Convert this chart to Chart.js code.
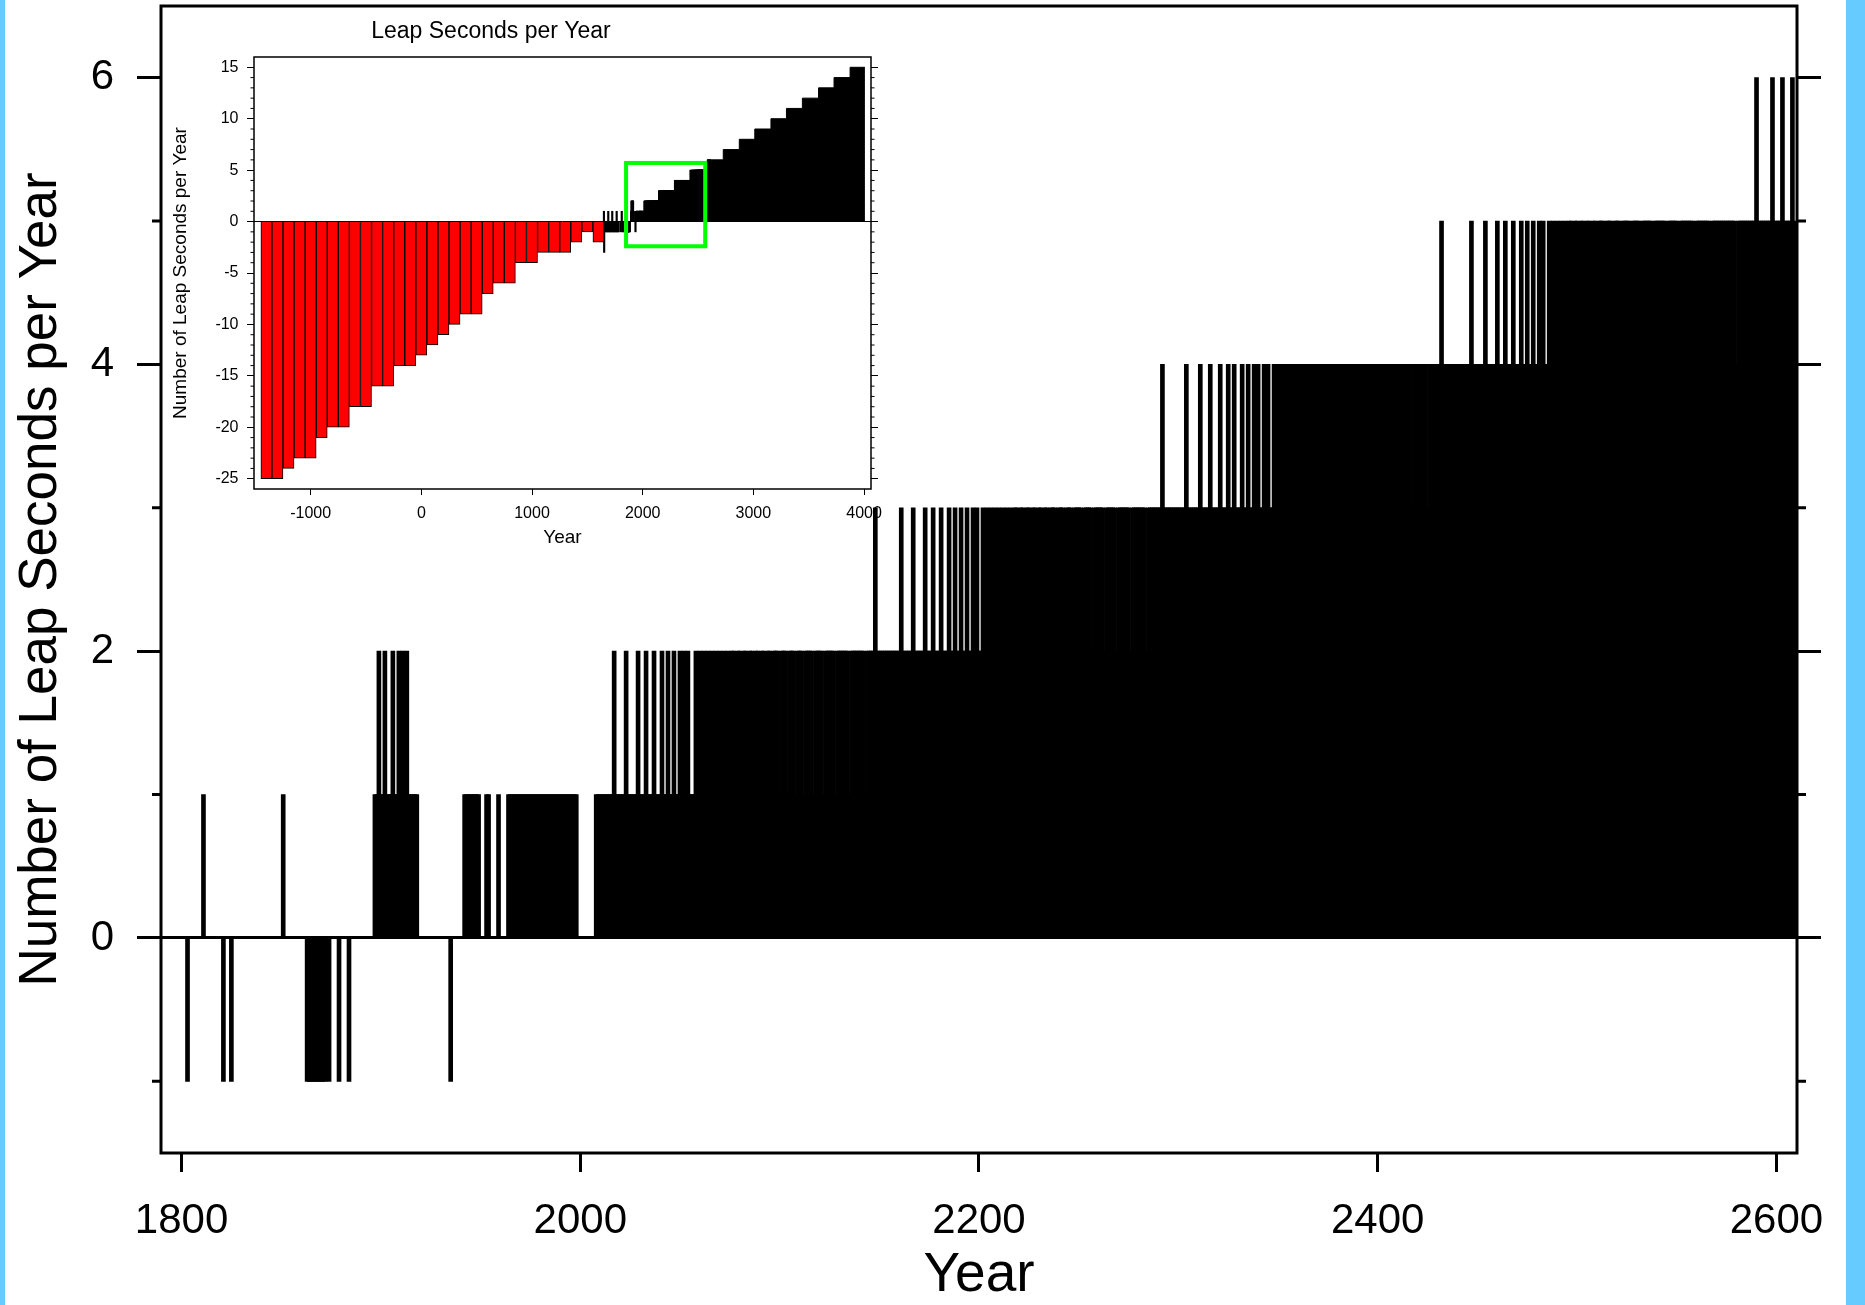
<!DOCTYPE html>
<html>
<head>
<meta charset="utf-8">
<title>Leap Seconds per Year</title>
<script src="https://cdn.jsdelivr.net/npm/chart.js@4.4.1/dist/chart.umd.min.js"></script>
<style>
    html, body { margin: 0; padding: 0; background: #fff; }
    #pagina { position: relative; width: 1865px; height: 1305px; background: #fff; overflow: hidden; }
    .borde { position: absolute; top: 0; height: 1305px; background: #66ccff; }
    #inserto { position: absolute; left: 110px; top: 0; z-index: 1; }
    #principal { position: absolute; left: 0; top: 0; z-index: 2; }
</style>
</head>
<body>
<div id="pagina">
    <div class="borde" style="left:0;width:5px"></div>
    <div class="borde" style="left:1846px;width:19px"></div>
    <canvas id="inserto" width="790" height="580"></canvas>
    <canvas id="principal" width="1865" height="1305"></canvas>
</div>
<script>
// Datos
const PRIMER_ANIO = 1790;
// segundos intercalares por anio, 1790..2609 (una fila por decada)
const segundosPorAnio = [
    0, 0, 0, 0, 0, 0, 0, 0, 0, 0,        // 1790
    0, 0, 0, -1, 0, 0, 0, 0, 0, 0,       // 1800
    0, 1, 0, 0, 0, 0, 0, 0, 0, 0,        // 1810
    0, -1, 0, 0, 0, -1, 0, 0, 0, 0,      // 1820
    0, 0, 0, 0, 0, 0, 0, 0, 0, 0,        // 1830
    0, 0, 0, 0, 0, 0, 0, 0, 0, 0,        // 1840
    0, 1, 0, 0, 0, 0, 0, 0, 0, 0,        // 1850
    0, 0, 0, -1, -1, -1, -1, -1, -1, -1, // 1860
    -1, -1, -1, 0, -1, 0, 0, 0, 0, -1,   // 1870
    0, 0, 0, 0, -1, 0, 0, 0, 0, 0,       // 1880
    0, 0, 0, 0, 0, 0, 0, 1, 1, 2,        // 1890
    1, 1, 2, 1, 1, 1, 2, 1, 1, 2,        // 1900
    1, 2, 1, 2, 1, 1, 1, 1, 1, 0,        // 1910
    0, 0, 0, 0, 0, 0, 0, 0, 0, 0,        // 1920
    0, 0, 0, 0, 0, -1, 0, 0, 0, 0,       // 1930
    0, 0, 1, 1, 1, 1, 1, 1, 1, 1,        // 1940
    0, 0, 0, 1, 1, 0, 0, 0, 0, 1,        // 1950
    0, 0, 0, 0, 1, 1, 1, 1, 1, 1,        // 1960
    1, 1, 1, 1, 1, 1, 1, 1, 1, 1,        // 1970
    1, 1, 1, 1, 1, 1, 1, 1, 1, 1,        // 1980
    1, 1, 1, 1, 1, 1, 1, 1, 1, 0,        // 1990
    0, 0, 0, 0, 0, 0, 0, 0, 1, 1,        // 2000
    1, 1, 1, 1, 1, 1, 1, 2, 1, 1,        // 2010
    1, 1, 1, 2, 1, 1, 1, 1, 1, 2,        // 2020
    1, 1, 1, 2, 1, 1, 1, 2, 1, 1,        // 2030
    1, 2, 1, 1, 2, 1, 1, 2, 1, 1,        // 2040
    2, 1, 2, 1, 2, 1, 1, 1, 2, 1,        // 2050
    2, 1, 2, 1, 2, 1, 2, 1, 2, 1,        // 2060
    2, 1, 2, 1, 2, 1, 2, 2, 1, 2,        // 2070
    2, 1, 2, 2, 1, 2, 2, 1, 2, 2,        // 2080
    1, 2, 2, 1, 2, 2, 1, 2, 2, 2,        // 2090
    1, 2, 2, 2, 1, 2, 2, 2, 1, 2,        // 2100
    2, 2, 1, 2, 2, 2, 2, 1, 2, 2,        // 2110
    2, 2, 1, 2, 2, 2, 2, 2, 1, 2,        // 2120
    2, 2, 2, 2, 2, 1, 2, 2, 2, 2,        // 2130
    2, 2, 2, 1, 2, 2, 2, 2, 3, 2,        // 2140
    2, 2, 2, 2, 2, 2, 2, 2, 2, 2,        // 2150
    2, 3, 2, 2, 2, 2, 2, 3, 2, 2,        // 2160
    2, 2, 2, 3, 2, 2, 2, 3, 2, 2,        // 2170
    2, 3, 2, 2, 2, 3, 2, 2, 3, 2,        // 2180
    2, 3, 2, 2, 3, 2, 2, 3, 2, 3,        // 2190
    2, 2, 3, 2, 3, 2, 3, 2, 3, 2,        // 2200
    3, 2, 3, 2, 3, 2, 3, 2, 3, 3,        // 2210
    2, 3, 3, 2, 3, 3, 2, 3, 3, 2,        // 2220
    3, 3, 2, 3, 3, 2, 3, 3, 3, 2,        // 2230
    3, 3, 3, 2, 3, 3, 3, 2, 3, 3,        // 2240
    3, 3, 2, 3, 3, 3, 3, 2, 3, 3,        // 2250
    3, 3, 3, 2, 3, 3, 3, 3, 3, 2,        // 2260
    3, 3, 3, 3, 3, 3, 2, 3, 3, 3,        // 2270
    3, 3, 3, 3, 2, 3, 3, 3, 3, 3,        // 2280
    3, 3, 4, 3, 3, 3, 3, 3, 3, 3,        // 2290
    3, 3, 3, 3, 4, 3, 3, 3, 3, 3,        // 2300
    3, 4, 3, 3, 3, 3, 4, 3, 3, 3,        // 2310
    3, 4, 3, 3, 3, 4, 3, 3, 4, 3,        // 2320
    3, 3, 4, 3, 3, 4, 3, 3, 4, 3,        // 2330
    4, 3, 3, 4, 3, 4, 3, 3, 4, 3,        // 2340
    4, 3, 4, 3, 4, 3, 4, 3, 4, 3,        // 2350
    4, 3, 4, 4, 3, 4, 3, 4, 4, 3,        // 2360
    4, 4, 3, 4, 4, 3, 4, 4, 3, 4,        // 2370
    4, 4, 3, 4, 4, 4, 3, 4, 4, 4,        // 2380
    3, 4, 4, 4, 3, 4, 4, 4, 4, 3,        // 2390
    4, 4, 4, 4, 3, 4, 4, 4, 4, 4,        // 2400
    3, 4, 4, 4, 4, 4, 4, 3, 4, 4,        // 2410
    4, 4, 4, 4, 4, 3, 4, 4, 4, 4,        // 2420
    4, 4, 5, 4, 4, 4, 4, 4, 4, 4,        // 2430
    4, 4, 4, 4, 4, 4, 4, 5, 4, 4,        // 2440
    4, 4, 4, 4, 5, 4, 4, 4, 4, 4,        // 2450
    5, 4, 4, 4, 5, 4, 4, 4, 5, 4,        // 2460
    4, 4, 5, 4, 4, 5, 4, 4, 5, 4,        // 2470
    4, 5, 4, 5, 4, 4, 5, 4, 5, 4,        // 2480
    5, 4, 5, 4, 5, 4, 5, 5, 4, 5,        // 2490
    5, 4, 5, 5, 4, 5, 5, 4, 5, 5,        // 2500
    4, 5, 5, 5, 4, 5, 5, 5, 4, 5,        // 2510
    5, 5, 4, 5, 5, 5, 5, 4, 5, 5,        // 2520
    5, 5, 4, 5, 5, 5, 5, 5, 4, 5,        // 2530
    5, 5, 5, 5, 5, 4, 5, 5, 5, 5,        // 2540
    5, 4, 5, 5, 5, 5, 5, 5, 5, 4,        // 2550
    5, 5, 5, 5, 5, 5, 5, 4, 5, 5,        // 2560
    5, 5, 5, 5, 5, 5, 5, 5, 5, 5,        // 2570
    4, 5, 5, 5, 5, 5, 5, 5, 5, 5,        // 2580
    6, 5, 5, 5, 5, 5, 5, 5, 6, 5,        // 2590
    5, 5, 5, 6, 5, 5, 5, 5, 6, 5         // 2600
];
const ticksAnio = [1800, 2000, 2200, 2400, 2600];
const ticksSegundos = [-1, 0, 1, 2, 3, 4, 5, 6];
const etiquetasSegundos = [0, 2, 4, 6];

// Grafico insertado: barras rojas por siglo
const siglosRojos = [-1400, -1300, -1200, -1100, -1000, -900, -800, -700, -600, -500, -400, -300, -200, -100,
    0, 100, 200, 300, 400, 500, 600, 700, 800, 900, 1000, 1100, 1200, 1300, 1400, 1500, 1600];
const valoresRojos = [-25, -25, -24, -23, -23, -21, -20, -20, -18, -18, -16, -16, -14, -14,
    -13, -12, -11, -10, -9, -9, -7, -6, -6, -4, -4, -3, -3, -3, -2, -1, -2];
// lineas negras antes de 1790
const aniosTempranos = [1650, 1652, 1656, 1663, 1670, 1677, 1684, 1689, 1691, 1698, 1705, 1712,
    1719, 1725, 1727, 1734, 1741, 1748, 1755, 1762, 1765, 1769, 1776, 1783];
const valoresTempranos = [1, -3, -1, -1, -1, -1, -1, 1, -1, -1, -1, -1,
    -1, 1, -1, -1, -1, -1, -1, -1, 1, -1, -1, -1];
// escalera negra (inicio de cada nivel)
const aniosEscalon = [1940, 2013, 2144, 2288, 2432, 2584, 2728, 2873, 3013, 3159, 3299, 3443, 3589, 3729, 3874, 4008];
const valoresEscalon = [1, 2, 3, 4, 5, 6, 7, 8, 9, 10, 11, 12, 13, 14, 15, 15];
const ticksAnioInserto = [-1000, 0, 1000, 2000, 3000, 4000];
const ticksSegInserto = [-25, -20, -15, -10, -5, 0, 5, 10, 15];
// recuadro verde (zona ampliada)
const cajaAnios = [1850, 2565];
const cajaValores = [-2.4, 5.7];

(function() {
    console.log('Iniciando grafico de segundos intercalares');

    Chart.defaults.font.family = "'Liberation Sans', Arial, sans-serif";
    Chart.defaults.color = '#000';

    const transparente = 'rgba(0,0,0,0)';
    const anios = segundosPorAnio.map((v, i) => PRIMER_ANIO + i);
    const puntosAnuales = anios.map((a, i) => ({ x: a, y: segundosPorAnio[i] }));

    function fijarTicks(valores) {
        return function(eje) {
            eje.ticks = valores.map(v => ({ value: v }));
        };
    }

    // tamano fijo del eje, sin relleno extra por las etiquetas
    function fijarTamano(ancho, alto) {
        return function(eje) {
            if (ancho !== null) eje.width = ancho;
            if (alto !== null) eje.height = alto;
            eje.paddingTop = 0;
            eje.paddingBottom = 0;
            eje.paddingLeft = 0;
            eje.paddingRight = 0;
        };
    }

    const sinComas = v => String(v);

    // marco y marcas menores del grafico principal
    const marcoPrincipal = {
        id: 'marcoPrincipal',
        afterDraw(chart) {
            const { ctx, chartArea: a, scales } = chart;
            ctx.save();
            ctx.strokeStyle = '#000';
            ctx.lineWidth = 3;
            ctx.strokeRect(a.left, a.top, a.right - a.left, a.bottom - a.top);
            ctx.beginPath();
            ticksSegundos.filter(v => !etiquetasSegundos.includes(v)).forEach(v => {
                const py = scales.y.getPixelForValue(v);
                ctx.moveTo(a.left - 9, py);
                ctx.lineTo(a.left, py);
                ctx.moveTo(a.right, py);
                ctx.lineTo(a.right + 9, py);
            });
            ctx.stroke();
            ctx.restore();
        }
    };

    function crearGraficoPrincipal() {
        const ctx = document.getElementById('principal');
        new Chart(ctx, {
            type: 'bar',
            data: {
                datasets: [{
                    data: puntosAnuales,
                    backgroundColor: '#000',
                    borderWidth: 0,
                    barThickness: 4
                }]
            },
            options: {
                responsive: false,
                animation: false,
                layout: { padding: { top: 6, left: 0, right: 0, bottom: 0 } },
                plugins: { legend: { display: false }, tooltip: { enabled: false } },
                scales: {
                    x: {
                        type: 'linear',
                        min: 1789.7,
                        max: 2610.3,
                        offset: false,
                        afterBuildTicks: fijarTicks(ticksAnio),
                        afterFit: fijarTamano(null, 152),
                        grid: { offset: false, drawOnChartArea: false, tickLength: 19, tickWidth: 3, tickColor: '#000' },
                        border: { display: false },
                        ticks: { font: { size: 42 }, padding: 24, maxRotation: 0, autoSkip: false, callback: sinComas },
                        title: { display: true, text: 'Year', font: { size: 55 }, padding: { top: 0, bottom: -4 } }
                    },
                    y: {
                        type: 'linear',
                        min: -1.5,
                        max: 6.5,
                        afterBuildTicks: fijarTicks(ticksSegundos),
                        afterFit: fijarTamano(161, null),
                        grid: {
                            color: c => (c.tick && c.tick.value === 0) ? '#000' : transparente,
                            lineWidth: 3,
                            tickLength: 24,
                            tickWidth: 3,
                            tickColor: c => (c.tick && etiquetasSegundos.includes(c.tick.value)) ? '#000' : transparente
                        },
                        border: { display: false },
                        ticks: {
                            font: { size: 42 },
                            padding: 23,
                            autoSkip: false,
                            callback: v => etiquetasSegundos.includes(v) ? String(v) : ''
                        },
                        title: { display: true, text: 'Number of Leap Seconds per Year', font: { size: 53 }, padding: { top: 10, bottom: 0 } }
                    },
                    y2: {
                        type: 'linear',
                        position: 'right',
                        min: -1.5,
                        max: 6.5,
                        afterBuildTicks: fijarTicks(ticksSegundos),
                        afterFit: fijarTamano(68, null),
                        grid: {
                            drawOnChartArea: false,
                            tickLength: 24,
                            tickWidth: 3,
                            tickColor: c => (c.tick && etiquetasSegundos.includes(c.tick.value)) ? '#000' : transparente
                        },
                        border: { display: false },
                        ticks: { autoSkip: false, callback: () => '' }
                    }
                }
            },
            plugins: [marcoPrincipal]
        });
    }

    // marco, marcas menores y recuadro verde del grafico insertado
    const marcoInserto = {
        id: 'marcoInserto',
        afterDatasetsDraw(chart) {
            const { ctx, chartArea: a, scales } = chart;
            ctx.save();
            ctx.strokeStyle = '#000';
            ctx.lineWidth = 1;
            ctx.beginPath();
            for (let v = -25; v <= 15; v++) {
                if (v % 5 === 0) continue;
                const py = scales.y.getPixelForValue(v);
                ctx.moveTo(a.left - 3.5, py);
                ctx.lineTo(a.left, py);
                ctx.moveTo(a.right, py);
                ctx.lineTo(a.right + 3.5, py);
            }
            ctx.stroke();
            ctx.lineWidth = 1.5;
            ctx.strokeRect(a.left, a.top, a.right - a.left, a.bottom - a.top);
            const x1 = scales.x.getPixelForValue(cajaAnios[0]);
            const x2 = scales.x.getPixelForValue(cajaAnios[1]);
            const y1 = scales.y.getPixelForValue(cajaValores[1]);
            const y2 = scales.y.getPixelForValue(cajaValores[0]);
            ctx.strokeStyle = '#00ff00';
            ctx.lineWidth = 4;
            ctx.strokeRect(x1, y1, x2 - x1, y2 - y1);
            ctx.restore();
        }
    };

    function crearGraficoInserto() {
        const ctx = document.getElementById('inserto');
        const rojos = siglosRojos.map((a, i) => ({ x: a, y: valoresRojos[i] }));
        const tempranos = aniosTempranos.map((a, i) => ({ x: a, y: valoresTempranos[i] }));
        const escalones = aniosEscalon.map((a, i) => ({ x: a, y: valoresEscalon[i] }));
        new Chart(ctx, {
            type: 'bar',
            data: {
                datasets: [
                    { type: 'line', data: escalones, stepped: 'before', fill: 'origin', backgroundColor: '#000',
                      borderColor: '#000', borderWidth: 1, pointRadius: 0, order: 4 },
                    { data: rojos, backgroundColor: '#ff0000', borderColor: '#000', borderWidth: 1,
                      barThickness: 11, grouped: false, order: 1 },
                    { data: tempranos, backgroundColor: '#000', borderWidth: 0, barThickness: 1.5, grouped: false, order: 2 },
                    { data: puntosAnuales, backgroundColor: '#000', borderWidth: 0, barThickness: 1.5, grouped: false, order: 3 }
                ]
            },
            options: {
                responsive: false,
                animation: false,
                layout: { padding: { top: 0, left: 0, right: 28, bottom: 0 } },
                plugins: {
                    legend: { display: false },
                    tooltip: { enabled: false },
                    title: {
                        display: true,
                        text: 'Leap Seconds per Year',
                        font: { size: 23, weight: 'normal' },
                        padding: { top: 18.2, bottom: 11.2 }
                    }
                },
                scales: {
                    x: {
                        type: 'linear',
                        min: -1512,
                        max: 4063,
                        offset: false,
                        afterBuildTicks: fijarTicks(ticksAnioInserto),
                        afterFit: fijarTamano(null, 91),
                        grid: { offset: false, drawOnChartArea: false, tickLength: 6, tickWidth: 1, tickColor: '#000' },
                        border: { display: false },
                        ticks: { font: { size: 16 }, padding: 9.4, maxRotation: 0, autoSkip: false, callback: sinComas },
                        title: { display: true, text: 'Year', font: { size: 19 }, padding: { top: 0, bottom: 31 } }
                    },
                    y: {
                        type: 'linear',
                        min: -26,
                        max: 16,
                        afterBuildTicks: fijarTicks(ticksSegInserto),
                        afterFit: fijarTamano(144, null),
                        grid: {
                            color: c => (c.tick && c.tick.value === 0) ? '#000' : transparente,
                            lineWidth: 1,
                            tickLength: 7,
                            tickWidth: 1,
                            tickColor: '#000'
                        },
                        border: { display: false },
                        ticks: { font: { size: 16 }, padding: 8.5, autoSkip: false, callback: sinComas },
                        title: { display: true, text: 'Number of Leap Seconds per Year', font: { size: 19 }, padding: { top: 59.6, bottom: 0 } }
                    },
                    y2: {
                        type: 'linear',
                        position: 'right',
                        min: -26,
                        max: 16,
                        afterBuildTicks: fijarTicks(ticksSegInserto),
                        afterFit: fijarTamano(1, null),
                        grid: { drawOnChartArea: false, tickLength: 7, tickWidth: 1, tickColor: '#000' },
                        border: { display: false },
                        ticks: { autoSkip: false, callback: () => '' }
                    }
                }
            },
            plugins: [marcoInserto]
        });
    }

    crearGraficoInserto();
    crearGraficoPrincipal();
    console.log('Grafico cargado');
})();
</script>
</body>
</html>
